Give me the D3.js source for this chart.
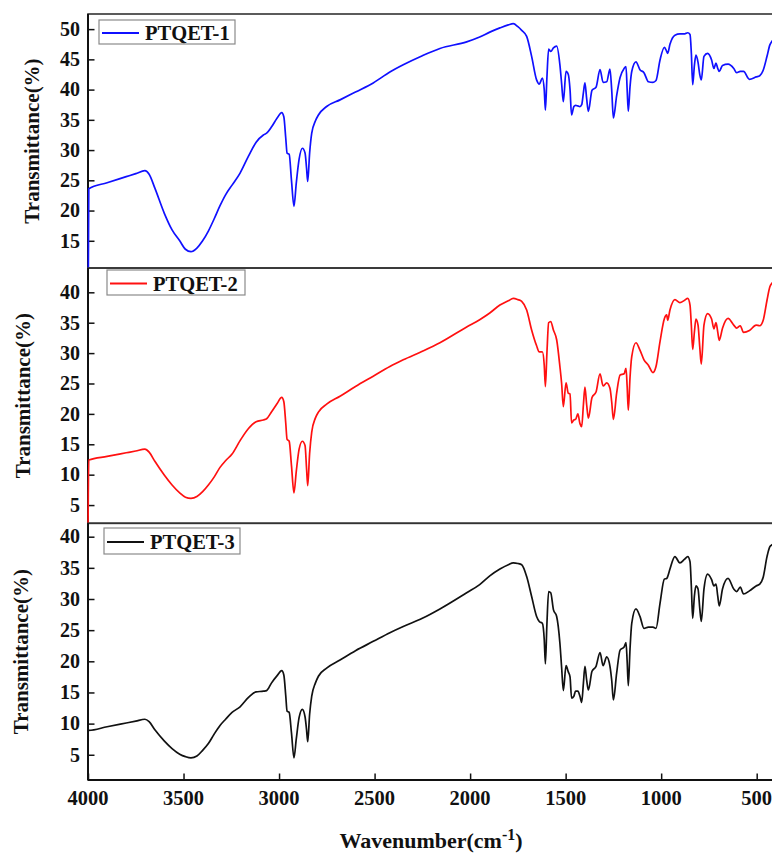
<!DOCTYPE html>
<html>
<head>
<meta charset="utf-8">
<script src="https://cdn.jsdelivr.net/npm/d3@7"></script>
<style>
  html, body { margin: 0; padding: 0; background: #fff; }
  svg { display: block; }
  text { font-family: "Liberation Serif", "Times New Roman", serif; font-weight: bold; fill: #111; }
</style>
</head>
<body>
<svg id="chart" width="772" height="854"></svg>
<script>
// FTIR spectra of the three PTQET samples (wavenumber in cm^-1, transmittance in %)
const wavenumbers = [
  4000, 3996, 3900, 3800, 3750, 3702, 3680, 3650, 3600, 3560, 3520, 3490, 3461, 3430, 3400, 3370,
  3340, 3309, 3280, 3246, 3204, 3160, 3120, 3082, 3065, 3040, 3010, 2986, 2975, 2965, 2958, 2947,
  2935, 2922, 2910, 2895, 2878, 2864, 2856, 2850, 2840, 2829, 2810, 2794, 2751, 2681, 2600, 2507,
  2420, 2350, 2250, 2158, 2018, 1950, 1897, 1844, 1800, 1774, 1750, 1730, 1704, 1678, 1652, 1638,
  1622, 1612, 1606, 1598, 1589, 1578, 1564, 1547, 1530, 1521, 1512, 1498, 1486, 1477, 1469, 1457,
  1448, 1436, 1425, 1416, 1407, 1399, 1390, 1381, 1362, 1341, 1320, 1304, 1285, 1268, 1259, 1250,
  1233, 1215, 1194, 1184, 1178, 1172, 1163, 1154, 1132, 1111, 1090, 1067, 1043, 1027, 1006, 983,
  971, 966, 954, 928, 902, 877, 861, 849, 842, 835, 826, 818, 807, 798, 790, 776,
  757, 736, 724, 713, 704, 696, 679, 650, 620, 605, 586, 569, 538, 503, 484, 466,
  446, 431, 420, 400
];

const ptqet1 = [
  0, 23.6, 24.6, 25.6, 26.1, 26.6, 26.0, 23.7, 19.5, 16.8, 15.0, 13.6, 13.2, 13.8, 15.0, 16.6,
  18.6, 20.8, 22.6, 24.2, 26.2, 29.0, 31.3, 32.5, 32.8, 33.8, 35.3, 36.2, 35.5, 32.0, 29.5, 29.3,
  25.0, 20.7, 24.5, 28.5, 30.3, 29.5, 27.0, 24.8, 29.5, 32.8, 34.8, 35.8, 37.2, 38.3, 39.6, 41.1,
  42.9, 44.1, 45.6, 46.8, 47.9, 48.7, 49.5, 50.2, 50.7, 50.9, 50.4, 49.8, 48.8, 45.5, 41.6, 40.9,
  41.9, 40.0, 36.6, 42.0, 46.7, 46.3, 46.9, 47.2, 44.1, 41.0, 38.0, 43.0, 42.5, 40.0, 35.8, 37.2,
  37.4, 37.3, 37.2, 37.5, 39.5, 41.1, 38.5, 36.4, 39.9, 40.4, 43.3, 41.2, 41.3, 43.4, 40.0, 35.3,
  39.0, 42.0, 43.5, 43.8, 40.0, 36.4, 40.5, 43.0, 44.6, 43.3, 42.8, 41.3, 41.2, 41.5, 44.9, 47.0,
  46.3, 46.0, 47.5, 49.0, 49.2, 49.2, 49.4, 49.1, 46.0, 40.8, 44.0, 45.7, 44.5, 42.5, 41.6, 45.5,
  46.0, 44.9, 43.5, 44.4, 43.5, 43.0, 44.0, 44.2, 43.5, 42.8, 43.0, 43.0, 41.7, 42.1, 42.3, 43.2,
  45.5, 47.4, 48.0, 48.5
];

const ptqet2 = [
  0, 12.4, 13.0, 13.6, 13.9, 14.2, 13.7, 12.2, 9.9, 8.3, 7.0, 6.3, 6.1, 6.4, 7.2, 8.3,
  9.6, 11.2, 12.3, 13.4, 15.6, 17.6, 18.7, 19.0, 19.2, 20.3, 21.7, 22.7, 22.0, 18.5, 15.8, 15.5,
  11.5, 7.0, 10.5, 14.2, 15.5, 14.8, 11.0, 8.2, 13.5, 17.0, 19.3, 20.3, 21.6, 22.9, 24.5, 26.2,
  27.8, 28.9, 30.3, 31.7, 34.3, 35.5, 36.6, 37.9, 38.6, 39.0, 38.8, 38.5, 37.1, 33.8, 31.2, 30.2,
  30.2, 28.0, 24.5, 30.0, 35.0, 35.2, 33.8, 32.2, 27.8, 25.0, 21.2, 25.1, 23.4, 23.3, 18.5, 19.0,
  19.1, 20.0, 18.4, 17.9, 21.5, 24.4, 21.5, 19.3, 22.7, 23.6, 26.6, 24.6, 25.1, 24.2, 22.0, 19.1,
  23.4, 26.4, 26.6, 27.5, 24.5, 20.6, 26.0, 29.4, 31.7, 30.5, 28.9, 28.0, 26.8, 27.8, 31.9, 35.7,
  36.3, 35.4, 37.1, 38.8, 38.3, 38.7, 39.0, 37.9, 34.5, 30.6, 33.5, 35.6, 34.6, 31.0, 28.2, 34.6,
  36.5, 35.6, 34.0, 35.0, 33.5, 32.1, 34.1, 35.7, 34.6, 34.1, 34.5, 33.4, 33.7, 34.6, 34.5, 35.4,
  38.7, 40.9, 41.5, 42.0
];

const ptqet3 = [
  8.9, 8.9, 9.5, 10.1, 10.4, 10.7, 10.3, 9.0, 7.2, 6.0, 5.1, 4.7, 4.5, 4.8, 5.7, 6.8,
  8.3, 9.7, 10.7, 11.8, 12.7, 14.2, 15.1, 15.2, 15.3, 16.5, 17.7, 18.5, 17.8, 14.5, 12.0, 11.8,
  8.5, 4.5, 7.5, 11.0, 12.3, 11.1, 9.0, 7.1, 11.5, 14.4, 16.5, 17.6, 18.9, 20.2, 21.7, 23.2,
  24.6, 25.6, 26.9, 28.4, 31.0, 32.3, 33.7, 34.8, 35.5, 35.8, 35.7, 35.5, 33.6, 30.4, 27.2, 26.4,
  26.1, 23.5, 19.6, 26.0, 31.2, 31.0, 28.3, 27.2, 22.9, 19.0, 15.3, 19.3, 18.3, 17.5, 14.1, 14.4,
  15.2, 15.2, 14.4, 13.4, 16.5, 19.2, 17.0, 15.4, 18.4, 19.2, 21.4, 19.3, 20.7, 19.2, 17.0, 13.8,
  18.1, 21.8, 22.3, 23.0, 20.0, 16.1, 22.0, 26.1, 28.4, 27.2, 25.3, 25.5, 25.5, 25.3, 29.3, 33.2,
  33.3, 33.6, 34.8, 36.8, 35.8, 36.4, 36.8, 36.0, 32.0, 26.9, 30.5, 32.1, 31.6, 28.5, 26.4, 31.6,
  34.0, 33.1, 32.1, 32.4, 30.5, 28.9, 31.6, 33.3, 31.6, 31.2, 31.9, 30.8, 31.3, 32.1, 32.4, 33.5,
  36.8, 38.4, 38.7, 39.0
];

const seriesNames = ["PTQET-1", "PTQET-2", "PTQET-3"];
const seriesColors = ["#1010ff", "#ff1010", "#111111"];
const xTickValues = [4000, 3500, 3000, 2500, 2000, 1500, 1000, 500];
const yTickValues1 = [15, 20, 25, 30, 35, 40, 45, 50];
const yTickValues2 = [5, 10, 15, 20, 25, 30, 35, 40];
const yTickValues3 = [5, 10, 15, 20, 25, 30, 35, 40];

const seriesValues = [ptqet1, ptqet2, ptqet3];
const yTickSets = [yTickValues1, yTickValues2, yTickValues3];

// Layout of the stacked panels
const left = 88, right = 775.8;
const panels = [
  { top: 14,    bottom: 268,   domain: [10.5, 52.5], titleX: 32, legend: { x: 99,  y: 20,  w: 136, h: 24 } },
  { top: 268,   bottom: 523.3, domain: [2, 44],      titleX: 23, legend: { x: 107, y: 270, w: 138, h: 25 } },
  { top: 523.3, bottom: 780,   domain: [0.95, 42.15], titleX: 21, legend: { x: 104, y: 528, w: 136, h: 26 } }
];

const svg = d3.select("#chart");
const x = d3.scaleLinear().domain([4000, 400]).range([left, right]);

panels.forEach((p, i) => {
  const y = d3.scaleLinear().domain(p.domain).range([p.bottom, p.top]);
  const g = svg.append("g");

  // panel frame
  g.append("rect")
    .attr("x", left).attr("y", p.top)
    .attr("width", right - left).attr("height", p.bottom - p.top)
    .attr("fill", "none").attr("stroke", "#333").attr("stroke-width", 1.6);

  g.append("line")
    .attr("x1", left).attr("x2", left).attr("y1", p.top).attr("y2", p.bottom)
    .attr("stroke", "#111").attr("stroke-width", 2);

  // left axis: labels outside, ticks pointing inward
  const yMinor = d3.range(Math.ceil(p.domain[0] / 2.5) * 2.5, p.domain[1] + 0.001, 2.5)
    .filter(v => v % 5 !== 0);
  const axisY = g.append("g").attr("transform", `translate(${left},0)`);
  axisY.call(d3.axisRight(y).tickValues(yMinor).tickSize(4).tickFormat(""));
  axisY.call(d3.axisRight(y).tickValues(yTickSets[i]).tickSize(6.5).tickFormat(""));
  axisY.selectAll(".domain").remove();
  axisY.selectAll("line").attr("stroke", "#111").attr("stroke-width", 1.5);

  g.selectAll(".ylab")
    .data(yTickSets[i])
    .enter().append("text")
    .attr("x", left - 8)
    .attr("y", d => y(d))
    .attr("dy", "0.34em")
    .attr("text-anchor", "end")
    .style("font-size", "20px")
    .text(d => d);

  // spectrum, drawn over the frame and clipped to the panel
  const clipId = "clip" + i;
  svg.append("clipPath").attr("id", clipId)
    .append("rect").attr("x", left - 2).attr("y", p.top + 1).attr("width", right - left + 2).attr("height", p.bottom - p.top - 1);

  const data = wavenumbers.map((w, k) => [w, seriesValues[i][k]]);
  const line = d3.line().x(d => x(d[0])).y(d => y(d[1])).curve(d3.curveMonotoneX);

  g.append("path")
    .datum(data)
    .attr("clip-path", `url(#${clipId})`)
    .attr("fill", "none")
    .attr("stroke", seriesColors[i])
    .attr("stroke-width", 1.7)
    .attr("stroke-linejoin", "round")
    .attr("d", line);

  // y axis title
  g.append("text")
    .attr("transform", `translate(${p.titleX + 7},${(p.top + p.bottom) / 2}) rotate(-90)`)
    .attr("text-anchor", "middle")
    .style("font-size", "21px")
    .text("Transmittance(%)");

  // legend
  const L = p.legend;
  g.append("rect")
    .attr("x", L.x).attr("y", L.y).attr("width", L.w).attr("height", L.h)
    .attr("fill", "#fff").attr("stroke", "#8a8a8a").attr("stroke-width", 1.2);
  g.append("line")
    .attr("x1", L.x + 3).attr("x2", L.x + 40)
    .attr("y1", L.y + L.h / 2 + 1).attr("y2", L.y + L.h / 2 + 1)
    .attr("stroke", seriesColors[i]).attr("stroke-width", 1.8);
  g.append("text")
    .attr("x", L.x + 46).attr("y", L.y + L.h / 2 + 1)
    .attr("dy", "0.35em")
    .style("font-size", "20.5px")
    .text(seriesNames[i]);

  // bottom axis only on the last panel
  if (i === panels.length - 1) {
    const xMinor = d3.range(3750, 400, -500);
    const axisX = g.append("g").attr("transform", `translate(0,${p.bottom})`);
    axisX.call(d3.axisTop(x).tickValues(xMinor).tickSize(4).tickFormat(""));
    axisX.call(d3.axisTop(x).tickValues(xTickValues).tickSize(6.5).tickFormat(""));
    axisX.selectAll(".domain").remove();
    axisX.selectAll("line").attr("stroke", "#111").attr("stroke-width", 1.5);
    g.append("line")
      .attr("x1", left).attr("x2", right).attr("y1", p.bottom).attr("y2", p.bottom)
      .attr("stroke", "#111").attr("stroke-width", 2);

    g.selectAll(".xlab")
      .data(xTickValues)
      .enter().append("text")
      .attr("x", d => x(d))
      .attr("y", p.bottom + 25)
      .attr("text-anchor", "middle")
      .style("font-size", "20.5px")
      .text(d => d);
  }
});

// x axis title with superscript
const xt = svg.append("text")
  .attr("x", 431).attr("y", 848)
  .attr("text-anchor", "middle")
  .style("font-size", "22px");
xt.append("tspan").text("Wavenumber(cm");
xt.append("tspan").attr("dy", "-8").style("font-size", "16px").text("-1");
xt.append("tspan").attr("dy", "8").text(")");
</script>
</body>
</html>
